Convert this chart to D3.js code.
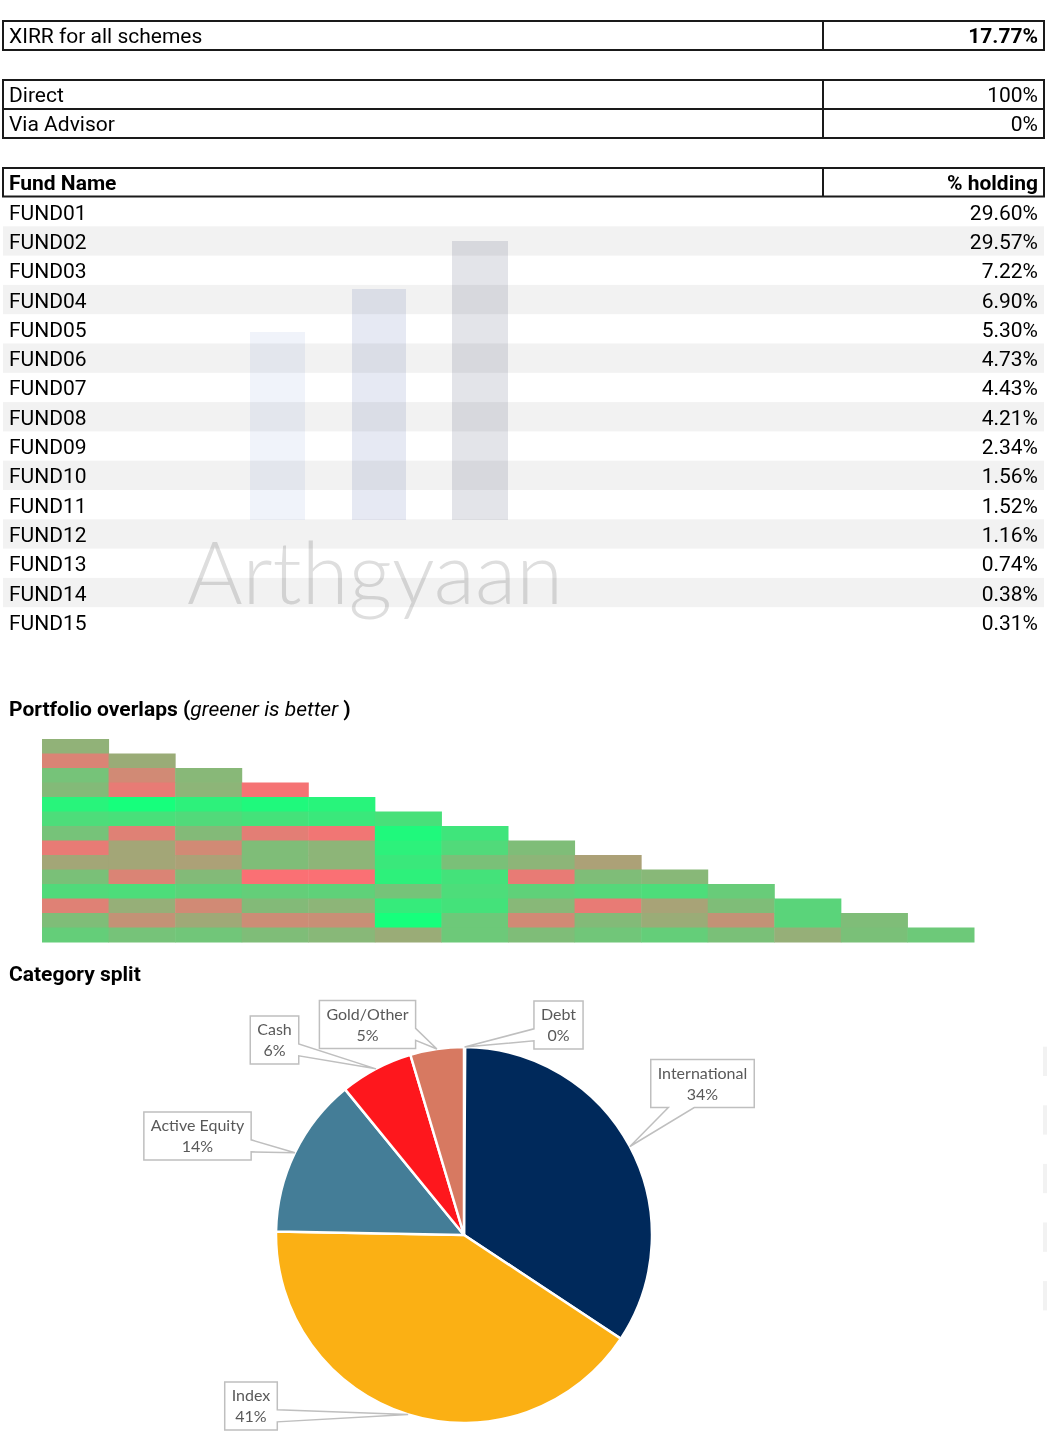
<!DOCTYPE html>
<html>
<head>
<meta charset="utf-8">
<script src="https://cdn.jsdelivr.net/npm/d3@7"></script>
<style>
body{margin:0;background:#fff;}
text{font-family:Roboto,"Liberation Sans",sans-serif;}
</style>
</head>
<body>
<div id="hoja"></div>
<script>
// summary values
var xirrLabel = "XIRR for all schemes";
var xirrValue = 17.77;
var channelNames = ["Direct", "Via Advisor"];
var channelShare = [100, 0];

// fund table
var fundNames = ["FUND01","FUND02","FUND03","FUND04","FUND05","FUND06","FUND07","FUND08",
                 "FUND09","FUND10","FUND11","FUND12","FUND13","FUND14","FUND15"];
var fundHolding = [29.60,29.57,7.22,6.90,5.30,4.73,4.43,4.21,2.34,1.56,1.52,1.16,0.74,0.38,0.31];

// pairwise overlap (%), row r compares fund r+2 with funds 1..r+1
var overlapRows = [
  [27],
  [43,29],
  [21,41,25],
  [24,46,26,49],
  [4,0,5,2,4],
  [12,11,13,10,8,11],
  [21,44,24,45,48,2,9],
  [46,31,41,23,26,5,13,23],
  [31,31,33,23,26,8,22,26,33],
  [22,43,24,50,50,5,10,46,23,25],
  [13,12,15,17,16,21,12,16,14,12,18],
  [44,28,41,24,26,7,10,25,46,32,23,15],
  [23,38,30,40,39,0,19,41,24,29,38,15,23],
  [17,21,20,23,25,29,19,23,20,17,22,28,22,19]
];

// category split
var categoryNames = ["Debt","International","Index","Active Equity","Cash","Gold/Other"];
var categoryShare = [0.1,34.2,41.0,13.8,6.3,4.6];
var categoryColors = ["#a5a5a5","#00295b","#fbb014","#447d97","#fe171d","#d77961"];

ancho = 1047;
alto = 1436;
x0 = 3;
x1 = 1044;
xdiv = 823;
filaH = 29.3;
letra = "21px";

var svg = d3.select("#hoja")
    .append("svg")
    .attr("width", ancho)
    .attr("height", alto);

// ---------- tables ----------
function marco(top, n, h) {
    var g = svg.append("g");
    g.append("rect")
        .attr("x", x0).attr("y", top)
        .attr("width", x1 - x0).attr("height", n * h)
        .attr("fill", "none").attr("stroke", "#1a1a1a").attr("stroke-width", 2);
    for (var i = 1; i < n; i++) {
        g.append("line")
            .attr("x1", x0).attr("x2", x1)
            .attr("y1", top + i * h).attr("y2", top + i * h)
            .attr("stroke", "#1a1a1a").attr("stroke-width", 2);
    }
    g.append("line")
        .attr("x1", xdiv).attr("x2", xdiv)
        .attr("y1", top).attr("y2", top + n * h)
        .attr("stroke", "#1a1a1a").attr("stroke-width", 2);
    return g;
}

function celdas(g, top, h, izq, der, peso) {
    g.selectAll("text.izq")
        .data(izq)
        .enter()
        .append("text")
        .attr("x", 9)
        .attr("y", function(d, i){ return top + i * h + h / 2; })
        .attr("dy", "0.38em")
        .attr("font-size", letra)
        .attr("font-weight", peso[0])
        .text(function(d){ return d; });
    g.selectAll("text.der")
        .data(der)
        .enter()
        .append("text")
        .attr("x", 1038)
        .attr("y", function(d, i){ return top + i * h + h / 2; })
        .attr("dy", "0.38em")
        .attr("text-anchor", "end")
        .attr("font-size", letra)
        .attr("font-weight", peso[1])
        .text(function(d){ return d; });
}

var t1 = marco(21, 1, 29);
celdas(t1, 21, 29, [xirrLabel], [xirrValue.toFixed(2) + "%"], ["normal", "bold"]);

var t2 = marco(80, 2, 29);
celdas(t2, 80, 29, channelNames, channelShare.map(function(d){ return d + "%"; }), ["normal", "normal"]);

// striped rows (sheet banding continues past the table at the right edge)
var filaY = d3.scaleLinear().domain([0, 1]).range([197, 197 + filaH]);
svg.append("g").selectAll("rect")
    .data(d3.range(1, 15, 2))
    .enter()
    .append("rect")
    .attr("x", x0)
    .attr("y", function(d){ return filaY(d); })
    .attr("width", x1 - x0)
    .attr("height", filaH)
    .attr("fill", "#f2f2f2");
svg.append("g").selectAll("rect")
    .data(d3.range(29, 39, 2))
    .enter()
    .append("rect")
    .attr("x", 1043)
    .attr("y", function(d){ return filaY(d); })
    .attr("width", 4)
    .attr("height", filaH)
    .attr("fill", "#f2f2f2");

// watermark
var marca = svg.append("g").style("mix-blend-mode", "multiply");
marca.append("rect").attr("x", 250).attr("y", 332).attr("width", 55).attr("height", 188).attr("fill", "#f0f3fa");
marca.append("rect").attr("x", 352).attr("y", 289).attr("width", 54).attr("height", 231).attr("fill", "#e6e9f3");
marca.append("rect").attr("x", 452).attr("y", 241).attr("width", 56).attr("height", 279).attr("fill", "#e3e4e9");
marca.append("text")
    .attr("x", 187).attr("y", 604)
    .attr("textLength", 376)
    .attr("lengthAdjust", "spacingAndGlyphs")
    .style("font-family", "Lato, sans-serif")
    .style("font-weight", 300)
    .attr("font-size", "86px")
    .attr("fill", "#dedede")
    .text("Arthgyaan");

var t3 = marco(168, 1, 28.5);
celdas(t3, 168, 28.5, ["Fund Name"], ["% holding"], ["bold", "bold"]);
celdas(svg.append("g"), 197, filaH, fundNames,
    fundHolding.map(function(d){ return d.toFixed(2) + "%"; }), ["normal", "normal"]);

// ---------- overlap heat map ----------
var titulo = svg.append("text")
    .attr("x", 9).attr("y", 716)
    .attr("font-size", letra)
    .attr("font-weight", "bold");
titulo.append("tspan").text("Portfolio overlaps (");
titulo.append("tspan").attr("font-weight", "normal").attr("font-style", "italic").text("greener is better");
titulo.append("tspan").text(" )");

var celdasH = [];
overlapRows.forEach(function(fila, r){
    fila.forEach(function(v, c){ celdasH.push({r: r, c: c, v: v}); });
});

var escalaX = d3.scaleBand().domain(d3.range(14)).range([42, 974]);
var escalaY = d3.scaleBand().domain(d3.range(14)).range([739, 942]);
var escalaColor = d3.scaleLinear().domain([0, 50]).range(["#16ff7c", "#fa7074"]);

svg.append("g").selectAll("rect")
    .data(celdasH)
    .enter()
    .append("rect")
    .attr("x", function(d){ return escalaX(d.c); })
    .attr("y", function(d){ return escalaY(d.r); })
    .attr("width", escalaX.bandwidth() + 0.5)
    .attr("height", escalaY.bandwidth() + 0.5)
    .attr("fill", function(d){ return escalaColor(d.v); });

// ---------- category pie ----------
svg.append("text")
    .attr("x", 9).attr("y", 981)
    .attr("font-size", letra)
    .attr("font-weight", "bold")
    .text("Category split");

var cx = 464, cy = 1235, radio = 188;
var datosPie = categoryNames.map(function(n, i){ return {name: n, v: categoryShare[i], color: categoryColors[i]}; });
var total = d3.sum(categoryShare);
var pie = d3.pie().sort(null).value(function(d){ return d.v; });
var arco = d3.arc().innerRadius(0).outerRadius(radio);
var porciones = pie(datosPie);

var gPie = svg.append("g").attr("transform", "translate(" + cx + "," + cy + ")");
gPie.selectAll("path")
    .data(porciones)
    .enter()
    .append("path")
    .attr("d", arco)
    .attr("fill", function(d){ return d.data.color; })
    .attr("stroke", "#fff")
    .attr("stroke-width", 2.5);

// callout box centres, relative to the pie centre
var cajas = {
    "Debt": [94.5, -210],
    "International": [238.5, -151.5],
    "Index": [-213, 171],
    "Active Equity": [-266.5, -99],
    "Cash": [-189.5, -195],
    "Gold/Other": [-96.5, -210.5]
};

function globo(bx0, by0, bx1, by1, tx, ty) {
    var w = bx1 - bx0, h = by1 - by0;
    var mx = (bx0 + bx1) / 2, my = (by0 + by1) / 2;
    var dx = (tx - mx) / (w / 2), dy = (ty - my) / (h / 2);
    var lado;
    if (Math.abs(dx) > Math.abs(dy)) lado = dx > 0 ? "r" : "l";
    else lado = dy > 0 ? "b" : "t";
    var p = [];
    var s, a, b;
    p.push([bx0, by0]);
    if (lado == "t") {
        s = tx > mx ? 1 : -1;
        a = mx + s * 0.08 * w; b = mx + s * 0.33 * w;
        p.push([Math.min(a, b), by0], [tx, ty], [Math.max(a, b), by0]);
    }
    p.push([bx1, by0]);
    if (lado == "r") {
        s = ty > my ? 1 : -1;
        a = my + s * 0.08 * h; b = my + s * 0.33 * h;
        p.push([bx1, Math.min(a, b)], [tx, ty], [bx1, Math.max(a, b)]);
    }
    p.push([bx1, by1]);
    if (lado == "b") {
        s = tx > mx ? 1 : -1;
        a = mx + s * 0.08 * w; b = mx + s * 0.33 * w;
        p.push([Math.max(a, b), by1], [tx, ty], [Math.min(a, b), by1]);
    }
    p.push([bx0, by1]);
    if (lado == "l") {
        s = ty > my ? 1 : -1;
        a = my + s * 0.08 * h; b = my + s * 0.33 * h;
        p.push([bx0, Math.max(a, b)], [tx, ty], [bx0, Math.min(a, b)]);
    }
    return "M" + p.map(function(q){ return q[0] + "," + q[1]; }).join("L") + "Z";
}

var gEtiq = svg.append("g").attr("transform", "translate(" + cx + "," + cy + ")");
porciones.forEach(function(d){
    var c = cajas[d.data.name];
    var medio = (d.startAngle + d.endAngle) / 2;
    var tx = radio * Math.sin(medio), ty = -radio * Math.cos(medio);
    var g = gEtiq.append("g");
    var camino = g.append("path");
    var lineas = [d.data.name, Math.round(d.data.v / total * 100) + "%"];
    var textos = g.selectAll("text")
        .data(lineas)
        .enter()
        .append("text")
        .attr("x", c[0])
        .attr("y", function(t, i){ return c[1] + (i == 0 ? -10.5 : 10.5); })
        .attr("dy", "0.35em")
        .attr("text-anchor", "middle")
        .style("font-family", "Lato, sans-serif")
        .attr("font-size", "16px")
        .attr("fill", "#595959")
        .text(function(t){ return t; });
    var anchoT = 0;
    textos.each(function(){ anchoT = Math.max(anchoT, this.getComputedTextLength()); });
    var w = anchoT + 14, h = 48;
    camino
        .attr("d", globo(c[0] - w / 2, c[1] - h / 2, c[0] + w / 2, c[1] + h / 2, tx, ty))
        .attr("fill", "#fff")
        .attr("stroke", "#bfbfbf")
        .attr("stroke-width", 1.5);
});
</script>
</body>
</html>
